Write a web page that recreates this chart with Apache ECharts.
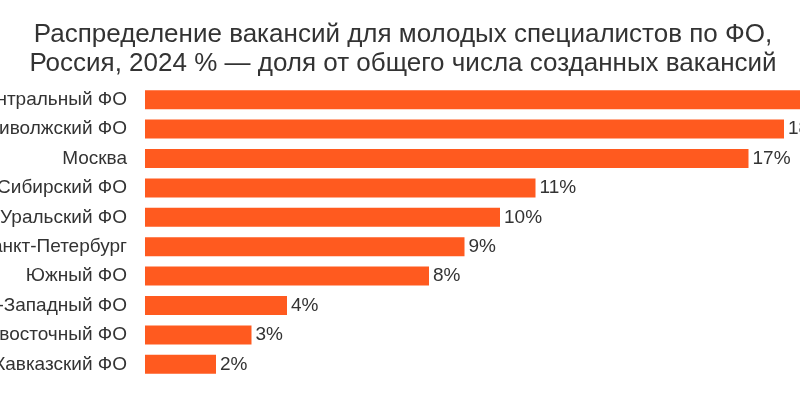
<!DOCTYPE html>
<html><head><meta charset="utf-8">
<script src="https://cdn.jsdelivr.net/npm/echarts@6/dist/echarts.min.js"></script>
<style>html,body{margin:0;background:#fff}#c{width:800px;height:400px}</style>
</head><body><div id="c"></div>
<script>
const regions = ["Центральный ФО", "Приволжский ФО", "Москва", "Сибирский ФО", "Уральский ФО",
  "Санкт-Петербург", "Южный ФО", "Северо-Западный ФО", "Дальневосточный ФО", "Северо-Кавказский ФО"];
const shares = [20, 18, 17, 11, 10, 9, 8, 4, 3, 2];

const chart = echarts.init(document.getElementById("c"));
chart.setOption({
  animation: false,
  title: {
    text: "Распределение вакансий для молодых специалистов по ФО,\nРоссия, 2024 % — доля от общего числа созданных вакансий",
    left: 398, top: 15, textAlign: "center",
    textStyle: { fontFamily: "Liberation Sans", fontSize: 26, fontWeight: "normal", color: "#333", lineHeight: 29 }
  },
  grid: { left: 145, top: 85, width: 710, height: 294, containLabel: false, outerBoundsMode: "none" },
  xAxis: { type: "value", min: 0, max: 20, show: false },
  yAxis: {
    type: "category", data: regions, inverse: true,
    axisLine: { show: false }, axisTick: { show: false },
    axisLabel: { fontFamily: "Liberation Sans", fontSize: 19, color: "#333", margin: 18 }
  },
  series: [{
    type: "bar", data: shares, barWidth: 19,
    itemStyle: { color: "#ff5a1f" },
    label: { show: true, position: "right", formatter: "{c}%", distance: 4,
      fontFamily: "Liberation Sans", fontSize: 19, color: "#333" }
  }]
});
</script></body></html>
